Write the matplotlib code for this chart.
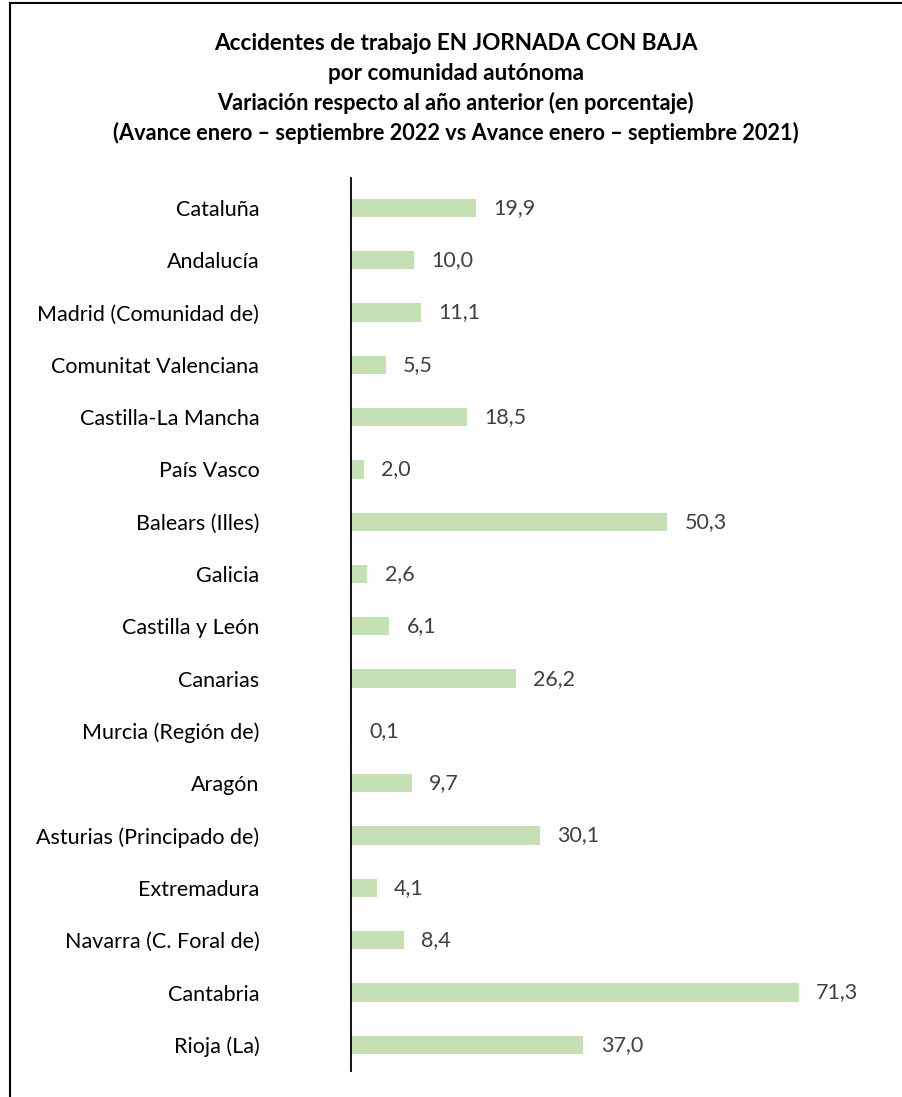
import matplotlib.pyplot as plt
from matplotlib.patches import Rectangle

regiones = ["Cataluña", "Andalucía", "Madrid (Comunidad de)", "Comunitat Valenciana",
            "Castilla-La Mancha", "País Vasco", "Balears (Illes)", "Galicia",
            "Castilla y León", "Canarias", "Murcia (Región de)", "Aragón",
            "Asturias (Principado de)", "Extremadura", "Navarra (C. Foral de)",
            "Cantabria", "Rioja (La)"]
variacion = [19.9, 10.0, 11.1, 5.5, 18.5, 2.0, 50.3, 2.6, 6.1, 26.2, 0.1, 9.7,
             30.1, 4.1, 8.4, 71.3, 37.0]

plt.rcParams['font.family'] = ['Lato', 'DejaVu Sans']

W, H = 902, 1097
fig = plt.figure(figsize=(W / 100, H / 100), dpi=100)

# marco exterior (solo se ven los bordes izquierdo y superior)
fig.patches.append(Rectangle((9.5 / W, -0.1), 1.2, 1.1 - 2.5 / H,
                             transform=fig.transFigure, fill=False,
                             edgecolor='black', linewidth=1.5))

ax_left, ax_top, ax_bottom = 351, 178, 1071
x_max = 80
px_per_unit = (799 - 351) / 71.3
ax = fig.add_axes([ax_left / W, 1 - ax_bottom / H,
                   x_max * px_per_unit / W, (ax_bottom - ax_top) / H])

pos = list(range(len(regiones)))
ax.barh(pos, variacion, height=0.35, color='#c5e0b4')
ax.set_ylim(16.5, -0.57)
ax.set_xlim(0, x_max)

for p, v in zip(pos, variacion):
    ax.annotate(f"{v:.1f}".replace('.', ','), (v, p), xytext=(12.5, 0),
                textcoords='offset points', va='center', ha='left',
                fontsize=15.5, color='#404040')

ax.set_yticks(pos)
ax.set_yticklabels(regiones, fontsize=15.5)
ax.tick_params(axis='y', length=0, pad=66)
ax.set_xticks([])
for s in ['top', 'right', 'bottom']:
    ax.spines[s].set_visible(False)
ax.spines['left'].set_linewidth(1.3)

cx = 0.5 * (9 + W) / W
fig.text(cx, 1 - 44 / H, "Accidentes de trabajo EN JORNADA CON BAJA",
         ha='center', va='center', fontsize=16.2, fontweight='bold')
fig.text(cx, 1 - 73 / H, "por comunidad autónoma",
         ha='center', va='center', fontsize=16.2, fontweight='bold')
fig.text(cx, 1 - 103 / H, "Variación respecto al año anterior (en porcentaje)",
         ha='center', va='center', fontsize=15.7, fontweight='bold')
fig.text(cx, 1 - 133 / H,
         "(Avance enero – septiembre 2022 vs Avance enero – septiembre 2021)",
         ha='center', va='center', fontsize=15.7, fontweight='bold')

fig.savefig('out.png', dpi=100)
